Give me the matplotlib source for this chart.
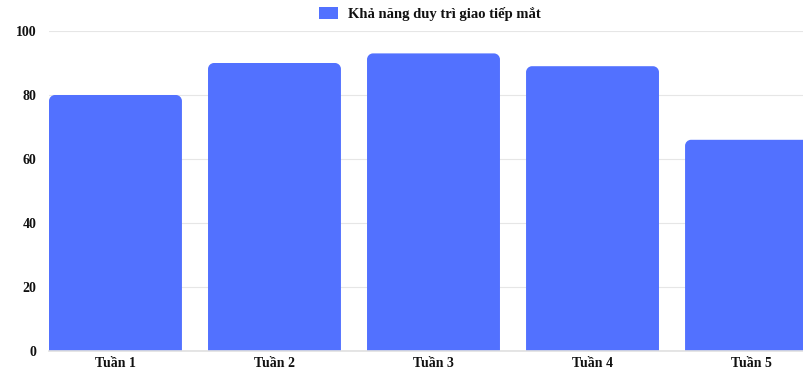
import matplotlib.pyplot as plt
from matplotlib.path import Path
from matplotlib.patches import PathPatch, Patch
import numpy as np

plt.rcParams['font.family'] = ['Liberation Serif', 'DejaVu Serif']
plt.rcParams['font.weight'] = 'bold'

weeks = ['Tuần 1', 'Tuần 2', 'Tuần 3', 'Tuần 4', 'Tuần 5']
values = [80, 90, 93, 89, 66]
series_name = 'Khả năng duy trì giao tiếp mắt'
bar_color = '#5271ff'


def rounded_top(x0, x1, y1, rx, ry):
    # bar outline with rounded top corners (cubic approximations)
    k = 0.5523
    verts = [
        (x0, 0), (x0, y1 - ry),
        (x0, y1 - ry + k * ry), (x0 + rx - k * rx, y1), (x0 + rx, y1),
        (x1 - rx, y1),
        (x1 - rx + k * rx, y1), (x1, y1 - ry + k * ry), (x1, y1 - ry),
        (x1, 0), (x0, 0),
    ]
    codes = [Path.MOVETO, Path.LINETO,
             Path.CURVE4, Path.CURVE4, Path.CURVE4,
             Path.LINETO,
             Path.CURVE4, Path.CURVE4, Path.CURVE4,
             Path.LINETO, Path.CLOSEPOLY]
    return Path(verts, codes)


fig = plt.figure(figsize=(8.04, 3.73), dpi=100)
ax = fig.add_axes([49 / 804, 22 / 373, 755 / 804, 320 / 373])

x = np.arange(len(weeks))
width = 0.836
ax.set_xlim(-0.418, 4.33)
ax.set_ylim(0, 100)

# corner radius ~6 px converted to data units
rx = 6 / 159
ry = 6 / 3.2
for xi, v in zip(x, values):
    p = rounded_top(xi - width / 2, xi + width / 2, v, rx, ry)
    ax.add_patch(PathPatch(p, facecolor=bar_color, edgecolor='none', zorder=2))

ax.set_yticks([0, 20, 40, 60, 80, 100])
ax.set_xticks(x)
ax.set_xticklabels(weeks)
ax.tick_params(axis='both', length=0, labelsize=10, colors='#111111')
ax.tick_params(axis='y', pad=9)
ax.tick_params(axis='x', pad=4)
ax.grid(axis='y', color='#e6e6e6', linewidth=0.8, zorder=0)
for s in ['top', 'right', 'left']:
    ax.spines[s].set_visible(False)
ax.spines['bottom'].set_color('#e0e0e0')
ax.spines['bottom'].set_linewidth(1.2)

handle = Patch(facecolor=bar_color, edgecolor='none')
fig.legend([handle], [series_name], loc='center', bbox_to_anchor=(430 / 804, 1 - 14 / 373),
           frameon=False, fontsize=10.5, handlelength=1.25, handleheight=0.9,
           handletextpad=0.7, borderaxespad=0, labelcolor='#111111')

fig.savefig('out.png', dpi=100)
